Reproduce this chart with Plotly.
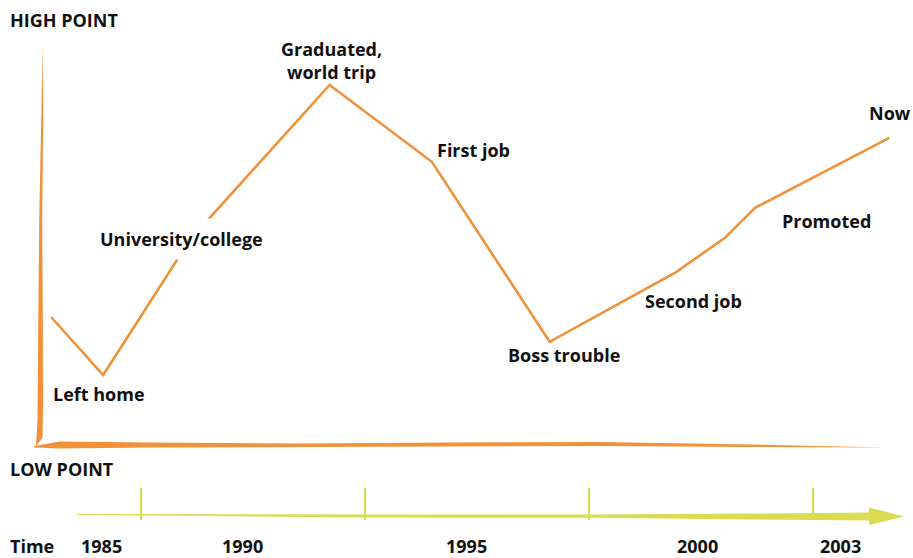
import plotly.graph_objects as go

W, H = 913, 558

# ---- data (timeline position in % of width, mood score: 0 = low point, 100 = high point)
event_pos = [5.6, 11.3, 20.8, 36.1, 47.3, 60.2, 74.1, 79.4, 82.7, 97.4]
mood = [32.0, 17.5, 51.3, 90.0, 70.8, 25.8, 43.3, 51.8, 59.3, 76.8]

event_labels = ["Left home", "University/college", "Graduated,<br>world trip", "First job",
                "Boss trouble", "Second job", "Promoted", "Now"]
year_labels = ["1985", "1990", "1995", "2000", "2003"]

ORANGE = "#F0923B"
YELLOW = "#D9DC4E"
FONT = "Open Sans"


def P(x, y):
    """pixel -> paper coordinates"""
    return x / W, 1 - y / H


def path(points):
    s = ""
    for i, (x, y) in enumerate(points):
        px, py = P(x, y)
        s += ("M" if i == 0 else "L") + f"{px:.5f},{py:.5f} "
    return s + "Z"


fig = go.Figure()
fig.add_trace(go.Scatter(x=event_pos, y=mood, mode="lines",
                         line=dict(color=ORANGE, width=2.6), hoverinfo="skip"))

shapes = []
# vertical brush axis
shapes.append(dict(type="path", xref="paper", yref="paper", fillcolor=ORANGE,
                   line=dict(width=0), layer="below",
                   path=path([(42.6, 46), (43.2, 120), (42.2, 220), (42.8, 320), (43.2, 400),
                              (42.5, 438), (36, 446), (37.5, 420), (38.2, 330), (39.2, 220),
                              (41.2, 120)])))
# horizontal brush axis
shapes.append(dict(type="path", xref="paper", yref="paper", fillcolor=ORANGE,
                   line=dict(width=0), layer="below",
                   path=path([(34, 446), (60, 441.5), (150, 442.5), (300, 443.5), (450, 442.5),
                              (600, 442), (750, 444.5), (886, 447.5), (750, 447), (600, 446),
                              (450, 446.5), (300, 447), (150, 447.5), (60, 448.5), (34, 447.5)])))
# time arrow shaft
shapes.append(dict(type="path", xref="paper", yref="paper", fillcolor=YELLOW,
                   line=dict(width=0), layer="below",
                   path=path([(77, 514), (200, 514.2), (365, 514.5), (600, 514.5), (750, 513.5),
                              (872, 512.5), (872, 520.5), (750, 519.5), (600, 517.8), (365, 517.5),
                              (200, 516), (77, 515)])))
# arrow head
shapes.append(dict(type="path", xref="paper", yref="paper", fillcolor=YELLOW,
                   line=dict(width=0), layer="below",
                   path=path([(869, 507.5), (904, 516.5), (869, 525)])))
# tick marks
for tx in [141, 365, 589, 813]:
    x0, y0 = P(tx, 488)
    x1, y1 = P(tx, 520)
    shapes.append(dict(type="line", xref="paper", yref="paper", x0=x0, x1=x1, y0=y0, y1=y1,
                       line=dict(color=YELLOW, width=2.2)))

annotations = []


def txt(text, x, y, anchor="left", bg=None, pad=0):
    px, py = P(x, y)
    d = dict(text=text, x=px, y=py, xref="paper", yref="paper", showarrow=False,
             xanchor=anchor, yanchor="middle", borderpad=pad,
             font=dict(family=FONT, size=18, color="#111111", weight="bold"))
    if bg:
        d["bgcolor"] = bg
    annotations.append(d)


txt("HIGH POINT", 9, 20)
txt("LOW POINT", 9, 469)
txt("Time", 9, 546)
label_xy = [(52, 394), (100, 239), (331, 60), (436, 150), (507, 355), (644, 301), (781, 221), (868, 113)]
for lab, (lx, ly) in zip(event_labels, label_xy):
    if lab.startswith("Graduated"):
        txt(lab, lx, ly, anchor="center")
    elif lab.startswith("University"):
        txt(lab, lx - 9, ly, bg="white", pad=8)
    else:
        txt(lab, lx, ly)
for lab, cx in zip(year_labels, [101, 242, 466, 697, 840]):
    txt(lab, cx, 546, anchor="center")

fig.update_layout(
    width=W, height=H, margin=dict(l=0, r=0, t=0, b=0),
    paper_bgcolor="white", plot_bgcolor="white", showlegend=False,
    xaxis=dict(range=[0, 100], visible=False, fixedrange=True),
    yaxis=dict(range=[-28.25, 111.25], visible=False, fixedrange=True),
    shapes=shapes, annotations=annotations,
)
fig.write_html("out.html", config={"displayModeBar": False},
               post_script="document.body.style.margin='0';document.body.style.overflow='hidden';")
